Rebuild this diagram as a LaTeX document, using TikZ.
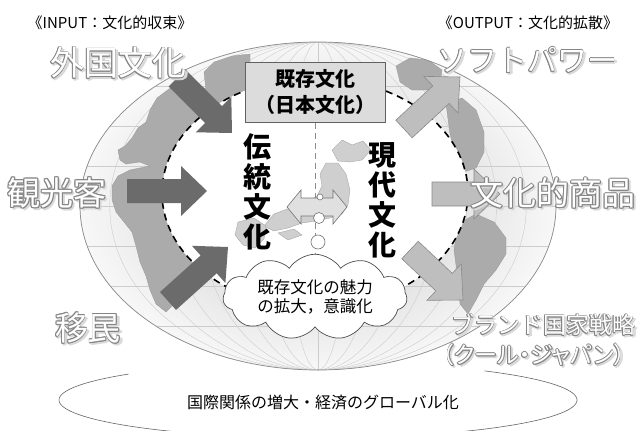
\documentclass[tikz,border=0pt]{standalone}
\usepackage{fontspec}
\newfontfamily\jp{Noto Sans CJK JP}
\usetikzlibrary{calc,shapes.symbols}
\definecolor{darkarr}{HTML}{6B6B6B}
\definecolor{lightarr}{HTML}{BEBEBE}
\definecolor{lightedge}{HTML}{8A8A8A}
\definecolor{land}{HTML}{ABABAB}
\definecolor{landedge}{HTML}{969696}
\definecolor{jpland}{HTML}{CFCFCF}
\definecolor{boxfill}{HTML}{DCDCDC}
\newcommand\fatarrow[3]{%
  \coordinate (aS) at #1; \coordinate (aT) at #2;
  \coordinate (aH) at ($(aT)!26pt!(aS)$);
  \path[#3] ($(aS)!12pt!90:(aT)$) -- ($(aH)!12pt!90:(aT)$) -- ($(aH)!25pt!90:(aT)$) -- (aT)
    -- ($(aH)!25pt!-90:(aT)$) -- ($(aH)!12pt!-90:(aT)$) -- ($(aS)!12pt!-90:(aT)$) -- cycle;}
\newcommand\olabel[4]{%
  \foreach \a in {0,90,180,270}
    \node[font=#3, text=black!15, inner sep=0pt] (#1s\a) at ($(#2)+(1.8,1.8)+(\a:1.2pt)$) {#4};
  \foreach \a in {0,45,...,315}
    \node[font=#3, text=black!48, inner sep=0pt] (#1o\a) at ($(#2)+(\a:0.8pt)$) {#4};
  \node[font=#3, text=white, inner sep=0pt] (#1) at (#2) {#4};}
\tikzset{
  meridian/.style={draw=black!20, line width=0.4pt},
  landshape/.style={fill=land, draw=landedge, line width=0.3pt},
  jpshape/.style={fill=jpland, draw=black!38, line width=0.3pt},
  darkarrow/.style={fill=darkarr},
  lightarrow/.style={fill=lightarr, draw=lightedge, line width=0.6pt},
  smallcirc/.style={circle, draw=black!55, fill=white, line width=0.6pt, inner sep=0pt},
  toplab/.style={font=\jp\fontsize{15}{15}\selectfont},
}
\begin{document}
\begin{tikzpicture}[x=1pt,y=-1pt]
\useasboundingbox (0,0) rectangle (638,431);
\fill[white] (0,0) rectangle (638,431);
% globe
\begin{scope}
  \clip (318,206) ellipse [x radius=238pt, y radius=164pt];
  \shade[inner color=black!22, outer color=black!3] (318,206) ellipse [x radius=238pt, y radius=164pt];
  \foreach \k in {0.125,0.25,...,1.0}
    \draw[meridian] (318,206) ellipse [x radius=\k*238pt, y radius=164pt];
  \draw[meridian] (318,40) -- (318,372);
  \foreach \yy in {86,126,166,206,246,286,326}
    \draw[meridian] (70,\yy) -- (570,\yy);
  % Europe / Africa
  \path[landshape] (212,92) -- (200,86) -- (188,90) -- (176,84) -- (165,92) -- (157,98) -- (150,110) -- (146,122)
    -- (138,128) -- (132,138) -- (125,146) -- (118,150) -- (120,160) -- (126,164) -- (140,162) -- (150,166)
    -- (130,170) -- (118,176) -- (112,186) -- (112,200) -- (116,212) -- (124,222) -- (132,232) -- (136,246)
    -- (140,262) -- (146,276) -- (150,290) -- (156,304) -- (166,312) -- (174,304) -- (182,286) -- (196,262)
    -- (212,230) -- (220,180) -- (222,130) -- cycle;
  % Asia (top)
  \path[landshape] (204,72) -- (214,62) -- (232,56) -- (250,54) -- (250,112) -- (226,112) -- (214,104) -- (206,90) -- cycle;
  % Alaska / Siberia bits
  \path[landshape] (396,66) -- (410,58) -- (428,60) -- (442,70) -- (440,84) -- (428,90) -- (412,90) -- (400,82) -- cycle;
  % North America
  \path[landshape] (446,104) -- (462,98) -- (476,110) -- (484,132) -- (484,152) -- (476,168) -- (464,172) -- (456,156) -- (450,134) -- cycle;
  % South America
  \path[landshape] (458,224) -- (476,214) -- (494,222) -- (506,238) -- (506,254) -- (496,270) -- (484,284) -- (476,300)
    -- (468,314) -- (460,304) -- (458,280) -- (454,250) -- cycle;
\end{scope}
\draw[black!45, line width=0.7pt] (318,206) ellipse [x radius=238pt, y radius=164pt];
% inner white region
\draw[black, line width=1.6pt, dash pattern=on 7pt off 5pt, fill=white] (315,193) ellipse [x radius=153pt, y radius=115pt];
% Japan
\path[jpshape] (332,150) -- (342,140) -- (352,145) -- (363,141) -- (371,150) -- (362,160) -- (350,162) -- (338,161) -- cycle;
\path[jpshape] (326,163) -- (338,163) -- (346,174) -- (350,190) -- (348,205) -- (342,214) -- (330,218) -- (316,221)
  -- (302,223) -- (288,228) -- (274,231) -- (264,226) -- (274,214) -- (290,208) -- (306,203) -- (317,196)
  -- (322,186) -- (320,174) -- cycle;
\path[jpshape] (238,222) -- (254,218) -- (266,226) -- (264,239) -- (255,248) -- (243,245) -- (235,235) -- cycle;
\path[jpshape] (278,233) -- (294,229) -- (302,235) -- (288,240) -- cycle;
% box
\node[draw=black!62, fill=boxfill, line width=1pt, minimum width=140pt, minimum height=60pt, align=center,
  font=\jp\bfseries\fontsize{20}{26}\selectfont] (box) at (315,92) {既存文化\\（日本文化）};
\coordinate (lineend) at (315,270);
\draw[black!45, line width=0.8pt, dash pattern=on 6pt off 4pt] (box.south) -- (lineend);
% double arrow
\path[fill=black!12, draw=black!55, line width=0.6pt] (287,207) -- (301,190) -- (301,198) -- (333,198) -- (333,190)
  -- (347,207) -- (333,224) -- (333,216) -- (301,216) -- (301,224) -- cycle;
\node[smallcirc, minimum size=6pt] (c1) at (320,197) {};
\node[smallcirc, minimum size=11pt] (c2) at (319,218) {};
\node[smallcirc, minimum size=14pt] (c3) at (318,242) {};
% vertical texts
\node[font=\jp\bfseries\fontsize{28}{30}\selectfont, align=center, inner sep=0pt] (trad) at (257,192) {伝\\統\\文\\化};
\node[font=\jp\bfseries\fontsize{28}{30}\selectfont, align=center, inner sep=0pt] (modern) at (382,200) {現\\代\\文\\化};
% arrows
\fatarrow{(177,78)}{(232,133)}{darkarrow}
\fatarrow{(127,191)}{(207,191)}{darkarrow}
\fatarrow{(168,301)}{(228,247)}{darkarrow}
\fatarrow{(404,129)}{(460,77)}{lightarrow}
\fatarrow{(432,194)}{(500,194)}{lightarrow}
\fatarrow{(410,250)}{(463,300)}{lightarrow}
% cloud
\node[cloud, cloud puffs=11, cloud puff arc=115, aspect=2.6, draw=black!70, fill=white, line width=0.7pt,
  minimum width=184pt, minimum height=72pt, inner sep=0pt, align=center,
  font=\jp\fontsize{16.5}{18.5}\selectfont] (cloud) at (315,297) {既存文化の魅力\\の拡大，意識化};
% outlined labels
\olabel{gaikoku}{118,63}{\jp\fontsize{34}{34}\selectfont}{外国文化}
\olabel{kanko}{57,193}{\jp\fontsize{33}{33}\selectfont}{観光客}
\olabel{imin}{88,328}{\jp\fontsize{33}{33}\selectfont}{移民}
\olabel{soft}{527,60}{\jp\fontsize{30}{30}\selectfont}{ソフトパワー}
\olabel{shohin}{553,193}{\jp\fontsize{33}{33}\selectfont}{文化的商品}
\olabel{brand}{543,325}{\jp\fontsize{23}{23}\selectfont}{ブランド国家戦略}
\olabel{cool}{534,355}{\jp\fontsize{23}{23}\selectfont\addfontfeatures{RawFeature=+palt}}{（クール・ジャパン）}
% top labels
\node[toplab] (input) at (110,23) {《INPUT：文化的収束》};
\node[toplab] (output) at (528,23) {《OUTPUT：文化的拡散》};
% bottom ellipse
\draw[black!60, line width=0.6pt] plot[domain=137:410, samples=140] ({318+259*cos(\x)}, {400-38*sin(\x)});
\node[font=\jp\fontsize{16}{16}\selectfont] (glob) at (323,402) {国際関係の増大・経済のグローバル化};
\end{tikzpicture}
\end{document}
